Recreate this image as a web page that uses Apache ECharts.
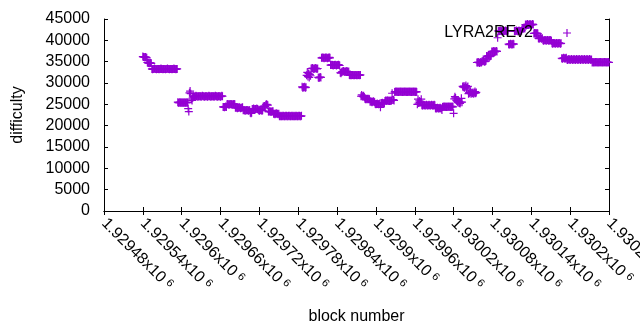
<!DOCTYPE html>
<html><head><meta charset="utf-8">
<script src="https://cdn.jsdelivr.net/npm/echarts@6/dist/echarts.min.js"></script>
<style>html,body{margin:0;padding:0;background:#fff}#c{width:640px;height:330px}</style>
</head><body><div id="c"></div>
<script>
const seriesName = 'LYRA2REv2';
const firstBlock = 1929540;
// difficulty of consecutive blocks starting at firstBlock
const difficulty = [
// 1929540
36200,36100,36100,36000,36100,36000,35900,
// 1929547
34800,34700,34700,34600,34700,34700,34600,
// 1929554
33300,33200,33300,33300,33400,33300,33300,33200,33300,33300,
33300,33200,33300,33300,33400,33300,33300,33200,33300,33300,
33300,33200,33300,33300,33400,33300,33300,33200,33300,33300,
33300,33200,33300,33300,33400,33300,33300,33200,33300,33300,
// 1929594
25500,25400,25400,25500,25400,25500,25400,25400,25500,25400,25400,25500,25400,25400,25500,25400,
// 1929610
24000,23300,
// 1929612
27700,28100,27500,26200,25900,26500,
// 1929618
26900,26900,26800,26900,27000,26900,26900,26800,26900,26900,
26900,26900,26800,26900,27000,26900,26900,26800,26900,26900,
26900,26900,26800,26900,27000,26900,26900,26800,26900,26900,
26900,26900,26800,26900,27000,26900,26900,26800,26900,26900,
26900,26900,26800,26900,27000,26900,
// 1929664
24400,24400,24300,24400,24500,24400,
// 1929670
25000,25100,25000,24900,25000,25000,25100,25000,24900,25000,25000,25100,25000,
// 1929683
24200,24300,24200,24100,24200,24200,24300,24200,24100,24200,24200,24300,
// 1929695
23600,23700,23600,23500,23600,23600,23700,23600,23500,23600,23600,
// 1929706
23000,22900,23000,
// 1929709
23900,23900,24000,23900,23800,23900,23900,24000,23900,23800,
// 1929719
23600,23500,23600,23700,23600,23500,23600,
// 1929726
24500,24500,24600,24500,24900,25000,24900,24800,
// 1929734
23300,23300,23400,23300,23200,23300,23300,23400,
// 1929742
22800,22800,22700,22800,22900,22800,22800,22700,22800,
// 1929751
22200,22300,22200,22200,22300,22200,22300,22200,22200,22300,
22200,22300,22200,22200,22300,22200,22300,22200,22200,22300,
22200,22300,22200,22200,22300,22200,22300,22200,22200,22300,
22200,22300,22200,22200,22300,
// 1929786
29100,28900,29000,29000,29100,28900,29000,
// 1929793
31800,32500,31500,32200,31300,32000,31700,
// 1929800
33400,33400,33500,33400,33300,33400,33400,33500,33400,33300,33400,
// 1929811
31300,31200,31300,31400,31300,
// 1929816
35900,35900,36000,35900,35800,35900,35900,36000,35900,35800,35900,35900,36000,35900,
// 1929830
34200,34200,34300,34200,34100,34200,34200,34300,34200,34100,34200,34200,34300,34200,34100,
// 1929845
32400,32300,32500,
// 1929848
32700,32700,32800,32700,32600,32700,32700,32800,32700,32600,32700,
// 1929859
31900,31800,31900,31800,31900,31900,31800,31900,31800,31900,31900,31800,31900,31800,31900,31900,31800,31900,
// 1929877
26900,27200,26900,26800,27000,26700,
// 1929883
26300,26200,26300,26200,26300,26200,26300,26200,
// 1929891
25600,25700,25600,25500,25600,25700,25600,25500,
// 1929899
25100,25000,25100,25200,25100,25000,25100,25200,
// 1929907
24300,
// 1929908
25300,25300,25400,25300,25200,25300,
// 1929914
25800,25900,25800,25900,25900,25800,25900,25800,25900,25800,25900,
// 1929925
27600,
// 1929926
26000,26100,25900,
// 1929929
27900,28000,27900,28000,27900,28000,27900,28000,27900,28000,
27900,28000,27900,28000,27900,28000,27900,28000,27900,28000,
27900,28000,27900,28000,27900,28000,27900,28000,27900,28000,
27900,28000,27900,28000,27900,
// 1929964
25000,
// 1929965
26200,25300,25800,25400,25600,26200,
// 1929971
24800,24700,24800,24900,24800,24700,24800,24900,24800,24700,
24800,24900,24800,24700,24800,24900,24800,24700,24800,24900,24800,
// 1929992
24100,24000,24100,24200,24100,24000,24100,24200,24100,24000,23700,
// 1930003
24400,24500,24400,24500,24400,24500,24400,24500,24400,24500,24400,24500,24400,24500,24400,24500,
// 1930019
24400,22900,
// 1930021
26300,26800,26500,26000,25800,25600,25400,25700,25300,25200,25500,26400,25500,
// 1930034
29200,29000,29300,28900,29100,29400,28800,29000,29200,
// 1930043
27500,27800,27600,27900,27500,27700,27600,27800,27500,27700,28000,27600,27800,
// 1930056
34800,34800,34900,34800,34700,34800,34900,34800,35100,35100,35200,35100,35000,35100,35200,
// 1930071
36300,36200,36300,36400,36300,36200,36300,36400,
// 1930079
37400,37300,37400,37500,37400,37300,37400,37500,37400,
// 1930088
40600,
// 1930089
42200,42100,42200,42300,42200,42100,42200,42300,42200,42100,42200,42300,42200,42100,42200,42300,
// 1930105
39100,39000,39100,39200,39100,39000,39100,39200,39100,
// 1930114
42200,42100,42200,42300,42200,42100,42200,42300,42200,42100,42200,42300,
// 1930126
42800,42700,42800,42900,42800,
// 1930131
43700,43600,43700,43800,43700,43600,43700,43800,43700,43600,43700,43800,43700,
// 1930144
41600,41700,41600,41700,41600,41700,41600,
// 1930151
40500,40400,40500,40600,40500,40400,40500,
// 1930158
40000,39900,40000,40100,40000,39900,40000,40100,40000,39900,40000,40100,40000,39900,
// 1930172
39300,39200,39300,39400,39300,39200,39300,39400,39300,39200,39300,39400,39300,39200,39300,
// 1930187
35800,35700,35800,35900,35800,35700,35800,35900,
// 1930195
35500,35400,35500,35600,35500,35400,35500,35600,35500,35400,
35500,35600,35500,35400,35500,35600,35500,35400,35500,35600,
35500,35400,35500,35600,35500,35400,35500,35600,35500,35400,
35500,35600,35500,35400,35500,35600,35500,35400,35500,
// 1930234
34800,34900,34800,34900,34800,34900,34800,34900,34800,34900,
34800,34900,34800,34900,34800,34900,34800,34900,34800,34900,
34800,34900,34800,34900,34800,34900,34800
];

const xMin = 1929480, xMax = 1930260, xStep = 60;
const xTickLabels = ['1.92948','1.92954','1.9296','1.92966','1.92972','1.92978','1.92984','1.9299','1.92996','1.93002','1.93008','1.93014','1.9302','1.93026'];
const yMin = 0, yMax = 45000, yStep = 5000;
const yTickLabels = ['0','5000','10000','15000','20000','25000','30000','35000','40000','45000'];

const points = difficulty.map((v, i) => [firstBlock + i, v]);

const FONT = 'Liberation Sans';
const COLOR = '#9400d3';
const plus = 'path://M0,34L80,34L80,46L0,46Z M34,0L46,0L46,80L34,80Z';

const chart = echarts.init(document.getElementById('c'), null, {renderer: 'canvas'});
const axisLine = {show: true, lineStyle: {color: '#000', width: 1}};
const tick = {show: true, inside: true, length: 4, lineStyle: {color: '#000', width: 1}};
chart.setOption({
  animation: false,
  backgroundColor: '#fff',
  textStyle: {fontFamily: FONT},
  grid: {left: 104, right: 31, top: 19, bottom: 119, containLabel: false, outerBoundsMode: 'none'},
  legend: {
    data: [seriesName], right: 69, top: 25, padding: 0, align: 'right',
    itemWidth: 58, itemHeight: 8, itemGap: 0, icon: plus, selectedMode: false,
    itemStyle: {color: COLOR},
    textStyle: {fontSize: 16, color: '#000', fontFamily: FONT}
  },
  xAxis: [{
    type: 'value', min: xMin, max: xMax, interval: xStep, position: 'bottom',
    axisLine, axisTick: tick, splitLine: {show: false},
    name: 'block number', nameLocation: 'middle', nameGap: 98,
    nameTextStyle: {fontSize: 16, color: '#000', fontFamily: FONT},
    axisLabel: {
      rotate: -45, margin: 10, color: '#000', fontSize: 16, fontFamily: FONT,
      formatter: (v) => xTickLabels[Math.round((v - xMin) / xStep)] + 'x10{s|6}',
      rich: {s: {fontSize: 11, verticalAlign: 'top', padding: [0, 0, 0, 4], color: '#000', fontFamily: FONT}}
    }
  }, {
    type: 'value', min: xMin, max: xMax, interval: xStep, position: 'top',
    axisLine, axisTick: tick, axisLabel: {show: false}, splitLine: {show: false}
  }],
  yAxis: [{
    type: 'value', min: yMin, max: yMax, interval: yStep, position: 'left',
    axisLine, axisTick: tick, splitLine: {show: false},
    name: 'difficulty', nameLocation: 'middle', nameGap: 78,
    nameTextStyle: {fontSize: 16, color: '#000', fontFamily: FONT},
    axisLabel: {
      margin: 14, color: '#000', fontSize: 16, fontFamily: FONT,
      formatter: (v) => yTickLabels[Math.round((v - yMin) / yStep)]
    }
  }, {
    type: 'value', min: yMin, max: yMax, interval: yStep, position: 'right',
    axisLine, axisTick: tick, axisLabel: {show: false}, splitLine: {show: false}
  }],
  series: [{
    name: seriesName, type: 'scatter', data: points,
    symbol: plus, symbolSize: 8, clip: false,
    itemStyle: {color: COLOR, opacity: 1}, emphasis: {disabled: true}
  }]
});
</script></body></html>
